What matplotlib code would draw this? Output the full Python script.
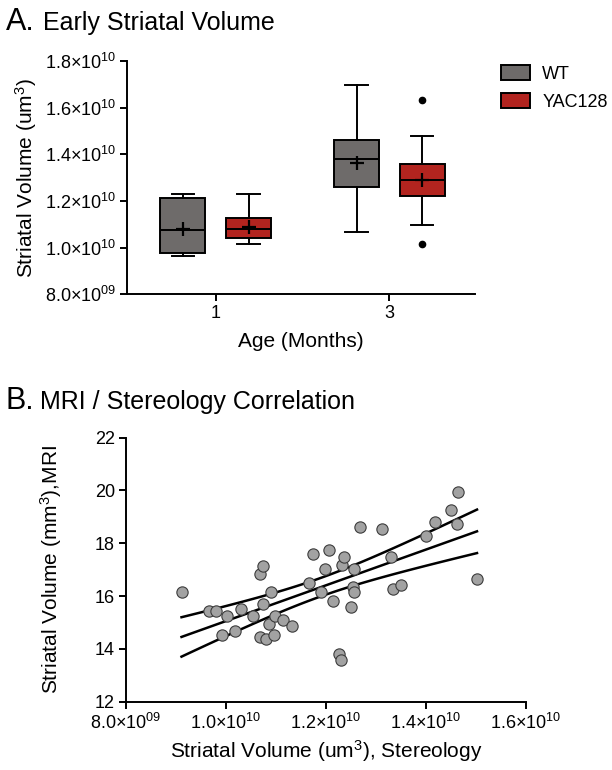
import numpy as np
import matplotlib
matplotlib.use("Agg")
import matplotlib.pyplot as plt
from matplotlib.patches import Patch
from matplotlib.ticker import FuncFormatter, FixedLocator

plt.rcParams['font.family'] = ['Liberation Sans', 'DejaVu Sans']
plt.rcParams['mathtext.fontset'] = 'custom'
plt.rcParams['mathtext.rm'] = 'Liberation Sans'
plt.rcParams['mathtext.it'] = 'Liberation Sans'
plt.rcParams['mathtext.bf'] = 'Liberation Sans'

# ---- panel A: box plot summaries (um^3) ----
ages = ['1', '3']
groups = ['WT', 'YAC128']
group_colors = ['#6e6b6a', '#b2241f']

# whislo, q1, med, q3, whishi, mean, fliers
wt_stats = [
    (9.64e9, 9.76e9, 10.74e9, 12.14e9, 12.30e9, 10.80e9, []),
    (10.69e9, 12.59e9, 13.80e9, 14.61e9, 16.96e9, 13.64e9, []),
]
yac_stats = [
    (10.16e9, 10.43e9, 10.80e9, 11.26e9, 12.28e9, 10.87e9, []),
    (10.97e9, 12.21e9, 12.89e9, 13.59e9, 14.79e9, 12.90e9, [16.33e9, 10.17e9]),
]

# ---- panel B: stereology vs MRI volumes ----
stereo = np.array([
    9.11, 9.65, 9.79, 10.02, 9.92, 10.17, 10.30, 10.54, 10.68, 10.74,
    10.74, 10.68, 10.79, 10.90, 10.86, 10.98, 10.96, 11.13, 11.32, 11.65,
    11.73, 11.90, 11.97, 12.06, 12.14, 12.25, 12.29, 12.31, 12.35, 12.56,
    12.54, 12.55, 12.49, 12.68, 13.11, 13.29, 13.33, 13.49, 13.99, 14.17,
    14.49, 14.61, 14.63, 15.02]) * 1e9
mri = np.array([
    16.16, 15.43, 15.45, 15.26, 14.54, 14.69, 15.50, 15.24, 16.85, 17.13,
    15.71, 14.46, 14.37, 16.14, 14.94, 15.24, 14.51, 15.10, 14.87, 16.49,
    17.60, 16.16, 17.04, 17.74, 15.81, 13.80, 13.57, 17.16, 17.48, 17.04,
    16.34, 16.15, 15.58, 18.60, 18.54, 17.49, 16.25, 16.40, 18.28, 18.79,
    19.25, 18.73, 19.93, 16.66])


def sci_fmt(v, pos):
    exp = int(np.floor(np.log10(v)))
    mant = v / 10**exp
    return r'%.1f$\times$10$^{%02d}$' % (mant, exp)


fig = plt.figure(figsize=(6.12, 7.7), dpi=100)

lw = 1.4

# ---------- A ----------
ax1 = fig.add_axes([0.2075, 0.6178, 0.5686, 0.303])
offset = 0.189
width = 0.259
for gi, (stats, color) in enumerate([(wt_stats, group_colors[0]), (yac_stats, group_colors[1])]):
    bstats = []
    for s in stats:
        bstats.append(dict(whislo=s[0], q1=s[1], med=s[2], q3=s[3], whishi=s[4],
                           mean=s[5], fliers=s[6]))
    pos = np.arange(len(ages)) + (-offset if gi == 0 else offset)
    ax1.bxp(bstats, positions=pos, widths=width, capwidths=0.13, showmeans=True,
            patch_artist=True, manage_ticks=False,
            boxprops=dict(facecolor=color, edgecolor='black', linewidth=lw),
            medianprops=dict(color='black', linewidth=lw),
            whiskerprops=dict(color='black', linewidth=lw),
            capprops=dict(color='black', linewidth=lw),
            meanprops=dict(marker='+', markeredgecolor='black', markersize=10,
                           markeredgewidth=1.6),
            flierprops=dict(marker='o', markerfacecolor='black', markeredgecolor='black',
                            markersize=4.5))

ax1.set_xlim(-0.511, 1.493)
ax1.set_ylim(8e9, 1.8e10)
ax1.set_xticks(range(len(ages)))
ax1.set_xticklabels(ages)
ax1.yaxis.set_major_locator(FixedLocator(np.arange(8e9, 1.81e10, 2e9)))
ax1.yaxis.set_major_formatter(FuncFormatter(sci_fmt))
ax1.set_xlabel('Age (Months)', fontsize=15, labelpad=7)
ax1.set_ylabel(r'Striatal Volume (um$^3$)', fontsize=15, labelpad=4)

handles = [Patch(facecolor=c, edgecolor='black', linewidth=lw) for c in group_colors]
fig.legend(handles, groups, loc='upper left', bbox_to_anchor=(0.818, 0.916),
           frameon=False, fontsize=13, handlelength=1.6, handleheight=0.95,
           handletextpad=0.7, labelspacing=0.55, borderpad=0, borderaxespad=0)

# ---------- B ----------
ax2 = fig.add_axes([0.2059, 0.0887, 0.6536, 0.343])
ax2.scatter(stereo, mri, s=66, facecolor='#a2a2a2', edgecolor='#3c3c3c',
            linewidth=0.8, zorder=3)

# linear fit with 95% confidence band of the mean
n = len(stereo)
slope, intercept = np.polyfit(stereo, mri, 1)
resid = mri - (slope * stereo + intercept)
s_err = np.sqrt(np.sum(resid**2) / (n - 2))
xm = stereo.mean()
sxx = np.sum((stereo - xm)**2)
t_crit = 2.018  # t(0.975, df=42)
xs = np.linspace(stereo.min(), stereo.max(), 100)
ys = slope * xs + intercept
half = t_crit * s_err * np.sqrt(1.0 / n + (xs - xm)**2 / sxx)
for yline in (ys, ys + half, ys - half):
    ax2.plot(xs, yline, color='black', linewidth=1.8, zorder=2)

ax2.set_xlim(8e9, 1.6e10)
ax2.set_ylim(12, 22)
ax2.xaxis.set_major_locator(FixedLocator(np.arange(8e9, 1.61e10, 2e9)))
ax2.xaxis.set_major_formatter(FuncFormatter(sci_fmt))
ax2.set_yticks(np.arange(12, 23, 2))
ax2.set_xlabel(r'Striatal Volume (um$^3$), Stereology', fontsize=15, labelpad=4)
ax2.set_ylabel(r'Striatal Volume (mm$^3$),MRI', fontsize=15, labelpad=22)

for ax in (ax1, ax2):
    for side in ('top', 'right'):
        ax.spines[side].set_visible(False)
    for side in ('left', 'bottom'):
        ax.spines[side].set_linewidth(lw)
    ax.tick_params(direction='out', length=5, width=lw, labelsize=13, pad=3)

# panel headings
fig.text(6 / 612, 1 - 30 / 770, 'A.', fontsize=22, va='baseline')
fig.text(43 / 612, 1 - 30 / 770, 'Early Striatal Volume', fontsize=18, va='baseline')
fig.text(6 / 612, 1 - 409 / 770, 'B.', fontsize=22, va='baseline')
fig.text(40 / 612, 1 - 409 / 770, 'MRI / Stereology Correlation', fontsize=18, va='baseline')

fig.savefig('out.png', dpi=100)
